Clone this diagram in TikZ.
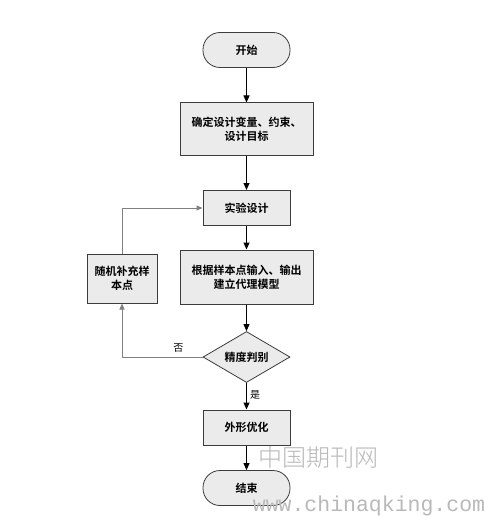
\documentclass[tikz,border=0pt]{standalone}
\usepackage{fontspec}
\setmonofont{Liberation Mono}
\newfontfamily\cjk{Noto Sans CJK SC}
\newfontfamily\cjkb{Noto Sans CJK SC Bold}
\newfontfamily\cjkl{Noto Sans CJK SC Light}
\usetikzlibrary{shapes.geometric,arrows.meta}
\definecolor{boxfill}{RGB}{235,235,235}
\definecolor{boxdraw}{RGB}{60,60,60}
\definecolor{loopgray}{RGB}{128,128,128}
\definecolor{wmgray}{RGB}{185,185,185}
\tikzset{
  every node/.style={font=\cjkb\fontsize{11}{14}\selectfont, align=center, inner sep=0pt},
  procbox/.style={draw=boxdraw, fill=boxfill, line width=1pt},
  termbox/.style={draw=boxdraw, fill=boxfill, line width=0.8pt, rounded corners=17pt, minimum width=87pt, minimum height=35pt},
  decbox/.style={draw=boxdraw, fill=boxfill, line width=0.8pt, diamond, aspect=1.7, minimum width=87pt, minimum height=51pt},
  flow/.style={-{Triangle[length=7pt,width=6pt]}, line width=1pt, black},
  back/.style={-{Triangle[length=6pt,width=5pt]}, line width=1pt, loopgray},
  lab/.style={font=\cjk\fontsize{10}{12}\selectfont, text=black}
}
\begin{document}
\begin{tikzpicture}[x=1pt,y=-1pt]
\useasboundingbox[fill=white] (0,0) rectangle (484,516);
\node[termbox] (start) at (246.5,50) {开始};
\node[procbox, minimum width=133pt, minimum height=52pt] (def) at (246.5,129) {确定设计变量、约束、\\设计目标};
\node[procbox, minimum width=87pt, minimum height=35pt] (doe) at (246.5,208) {实验设计};
\node[procbox, minimum width=133pt, minimum height=54pt] (model) at (246.5,277) {根据样本点输入、输出\\建立代理模型};
\node[procbox, minimum width=70pt, minimum height=49pt] (rand) at (122,278.5) {随机补充样\\本点};
\node[decbox] (judge) at (246.5,357) {精度判别};
\node[procbox, minimum width=87pt, minimum height=35pt] (opt) at (246.5,427.5) {外形优化};
\node[termbox] (end) at (246.5,488) {结束};

\draw[flow] (start) -- (def);
\draw[flow] (def) -- (doe);
\draw[flow] (doe) -- (model);
\draw[flow] (model) -- (judge);
\draw[flow] (judge) -- node[lab, right=3pt, pos=0.45] (yes) {是} (opt);
\draw[flow] (opt) -- (end);
\draw[back] (judge.west) -| node[lab, pos=0.15, above=4pt] (no) {否} (rand.south);
\draw[back] (rand.north) |- (doe.west);

\node[font=\cjkl\fontsize{24}{24}\selectfont, text=wmgray] (wm1) at (318,457) {中国期刊网};
\node[font=\ttfamily\fontsize{21.5}{22}\selectfont, text=wmgray] (wm2) at (369,506) {www.chinaqking.com};
\end{tikzpicture}
\end{document}
